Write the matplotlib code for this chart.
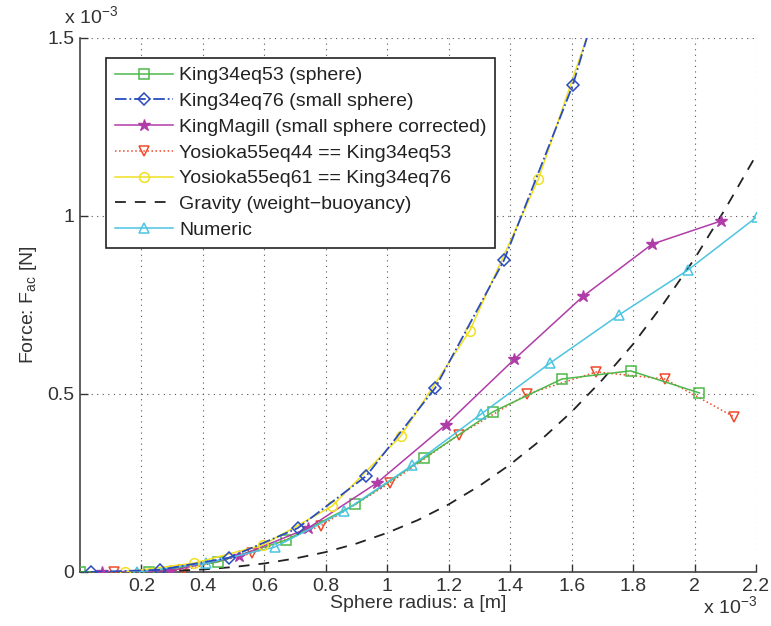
import numpy as np
import matplotlib
matplotlib.use("Agg")
import matplotlib.pyplot as plt

plt.rcParams['font.family'] = ['Liberation Sans', 'DejaVu Sans']
plt.rcParams['mathtext.default'] = 'regular'

# --- Data (radius and force both in units of 1e-3) ---
a_king53 = [0.0, 0.224, 0.448, 0.672, 0.896, 1.12, 1.344, 1.568, 1.792, 2.016]
f_king53 = [0.0, 0.0, 0.028, 0.090, 0.190, 0.320, 0.450, 0.542, 0.565, 0.503]

a_king76 = [0.036, 0.26, 0.484, 0.708, 0.932, 1.156, 1.38, 1.604, 1.828]
f_king76 = [0.0, 0.006, 0.040, 0.123, 0.270, 0.517, 0.876, 1.368, 2.02]

a_magill = [0.07, 0.294, 0.518, 0.742, 0.966, 1.19, 1.414, 1.638, 1.862, 2.086]
f_magill = [0.0, 0.003, 0.045, 0.123, 0.250, 0.413, 0.598, 0.775, 0.921, 0.986]

a_yos44 = [0.112, 0.336, 0.56, 0.784, 1.008, 1.232, 1.456, 1.68, 1.904, 2.128]
f_yos44 = [0.0, 0.005, 0.053, 0.130, 0.250, 0.385, 0.500, 0.562, 0.542, 0.436]

a_yos61 = [0.148, 0.372, 0.596, 0.82, 1.044, 1.268, 1.492, 1.716]
f_yos61 = [0.0, 0.025, 0.076, 0.185, 0.382, 0.677, 1.104, 1.67]

a_grav = [0.0, 0.1, 0.2, 0.3, 0.4, 0.5, 0.6, 0.7, 0.8, 0.9, 1.0, 1.1,
          1.2, 1.3, 1.4, 1.5, 1.6, 1.7, 1.8, 1.9, 2.0, 2.1, 2.2]
f_grav = [0.0, 0.0001, 0.0009, 0.003, 0.007, 0.014, 0.024, 0.038, 0.056,
          0.080, 0.110, 0.146, 0.190, 0.242, 0.302, 0.371, 0.450, 0.540,
          0.640, 0.755, 0.880, 1.020, 1.170]

a_num = [0.186, 0.41, 0.634, 0.858, 1.082, 1.306, 1.53, 1.754, 1.978, 2.202]
f_num = [0.0, 0.025, 0.070, 0.170, 0.300, 0.444, 0.587, 0.722, 0.848, 0.997]

x_ticks = [0.2, 0.4, 0.6, 0.8, 1.0, 1.2, 1.4, 1.6, 1.8, 2.0, 2.2]
x_ticklabels = ['0.2', '0.4', '0.6', '0.8', '1', '1.2', '1.4', '1.6', '1.8', '2', '2.2']
y_ticks = [0, 0.5, 1.0, 1.5]
y_ticklabels = ['0', '0.5', '1', '1.5']

# --- Figure ---
W, H = 771, 626
fig = plt.figure(figsize=(W / 100, H / 100), dpi=100)
ax = fig.add_axes([80 / W, 54 / H, 676 / W, 534 / H])

green = '#4db848'
blue = '#2a4cbc'
magenta = '#b03ca8'
red = '#ee4a2c'
yellow = '#f0e020'
cyan = '#4cc4e2'
txt = '#333333'
fs = 14

mk = dict(markerfacecolor='none', markersize=7, markeredgewidth=1.1, linewidth=1.1)
ax.plot(a_king53, f_king53, '-s', color=green, label='King34eq53 (sphere)', zorder=4, **mk)
ax.plot(a_king76, f_king76, '-.D', color=blue, label='King34eq76 (small sphere)', zorder=6,
        markerfacecolor='none', markersize=6, markeredgewidth=1.1, linewidth=1.3)
ax.plot(a_magill, f_magill, '-*', color=magenta, label='KingMagill (small sphere corrected)',
        zorder=4, markersize=9, linewidth=1.1)
ax.plot(a_yos44, f_yos44, ':v', color=red, label='Yosioka55eq44 == King34eq53', zorder=3, **mk)
ax.plot(a_yos61, f_yos61, '-o', color=yellow, label='Yosioka55eq61 == King34eq76', zorder=5, **mk)
ax.plot(a_grav, f_grav, '--', color='#222222', label='Gravity (weight\u2212buoyancy)',
        linewidth=1.3, dashes=(6, 5), zorder=3)
ax.plot(a_num, f_num, '-^', color=cyan, label='Numeric', zorder=4, **mk)

ax.set_xlim(0, 2.2)
ax.set_ylim(0, 1.5)
ax.set_xticks(x_ticks)
ax.set_xticklabels(x_ticklabels)
ax.set_yticks(y_ticks)
ax.set_yticklabels(y_ticklabels)
ax.tick_params(direction='in', length=6, width=1, colors=txt, labelsize=fs, pad=4)

ax.grid(True, linestyle=(0, (1, 4)), color='#555555', linewidth=0.8)
ax.spines['top'].set_visible(False)
ax.spines['right'].set_visible(False)
for s in ('left', 'bottom'):
    ax.spines[s].set_color('#444444')
    ax.spines[s].set_linewidth(1.2)

ax.set_xlabel('Sphere radius: a [m]', fontsize=fs, color=txt, labelpad=0)
ax.set_ylabel('Force: F$_{ac}$ [N]', fontsize=fs, color=txt, labelpad=6)

fig.text(64 / W, 1 - 16 / H, r'x 10$^{-3}$', fontsize=fs, color=txt, ha='left', va='center')
fig.text(703 / W, 1 - 606 / H, r'x 10$^{-3}$', fontsize=fs, color=txt, ha='left', va='center')

leg = ax.legend(loc='upper left', bbox_to_anchor=(106 / W, 1 - 58 / H),
                bbox_transform=fig.transFigure, borderaxespad=0, fancybox=False,
                framealpha=1, edgecolor='#222222', fontsize=14, handlelength=3.0,
                labelspacing=0.42, handletextpad=0.3, borderpad=0.45)
leg.get_frame().set_linewidth(1.2)
for t in leg.get_texts():
    t.set_color('#222222')

fig.savefig('out.png', dpi=100)
